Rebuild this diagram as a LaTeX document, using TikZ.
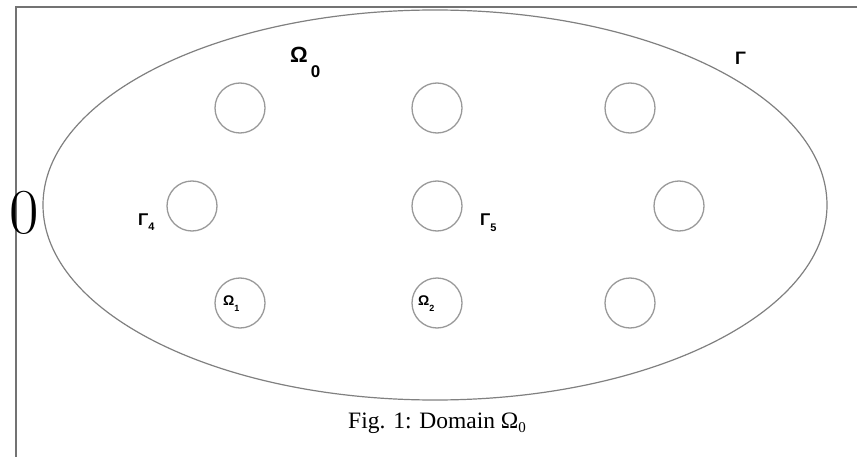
\documentclass[tikz,border=0pt]{standalone}
\usepackage{fontspec}
\newfontfamily\labfont{Liberation Sans}
\newfontfamily\capfont{Liberation Serif}
\newcommand{\lsub}[3]{\raisebox{#1}{\fontsize{#2}{#2}\selectfont #3}}
\tikzset{
  hole/.style={circle, draw=black!40, line width=1.3pt, minimum size=50pt, inner sep=0pt},
  lab/.style={inner sep=0pt, font=\labfont\bfseries},
  frame/.style={draw=black!55, line width=1.5pt}
}
\begin{document}
\begin{tikzpicture}[x=1pt,y=-1pt]
\useasboundingbox (0,0) rectangle (861,457);
\fill[white] (0,0) rectangle (861,457);
% frame lines
\coordinate (tl) at (16,7);
\coordinate (tr) at (857,7);
\coordinate (bl) at (16,457);
\draw[frame] (tr) -- (tl) -- (bl);
% outer boundary
\coordinate (ec) at (435,205);
\draw[draw=black!50, line width=1.2pt] (ec) ellipse [x radius=392pt, y radius=195pt];
% holes
\node[hole] (h11) at (240,108) {};
\node[hole] (h12) at (437,108) {};
\node[hole] (h13) at (630,108) {};
\node[hole] (h21) at (192,206) {};
\node[hole] (h22) at (437,206) {};
\node[hole] (h23) at (679,206) {};
\node[hole] (h31) at (240,303) {};
\node[hole] (h32) at (437,303) {};
\node[hole] (h33) at (630,303) {};
% labels
\node[lab, anchor=base west] (om0) at (290,63) {\fontsize{22}{22}\selectfont Ω\kern3pt\lsub{-15pt}{17}{0}};
\node[lab, anchor=base west] (gam) at (735,65) {\fontsize{18}{18}\selectfont Γ};
\node[lab, anchor=base west] (g4) at (138,225) {\fontsize{17}{17}\selectfont Γ\lsub{-5pt}{11}{4}};
\node[lab, anchor=base west] (g5) at (480,225) {\fontsize{17}{17}\selectfont Γ\lsub{-6pt}{11}{5}};
\node[lab, anchor=base west] (om1) at (223,305) {\fontsize{14}{14}\selectfont Ω\lsub{-6pt}{9}{1}};
\node[lab, anchor=base west] (om2) at (418,305) {\fontsize{14}{14}\selectfont Ω\lsub{-6pt}{9}{2}};
\node[inner sep=0pt, anchor=base west, font=\capfont] (cap) at (348,428) {\fontsize{23.5}{23.5}\selectfont Fig. 1: Domain Ω\lsub{-4pt}{15}{0}};
\node[inner sep=0pt, anchor=base] (zero) at (24,233) {\fontsize{64}{64}\selectfont 0};
\end{tikzpicture}
\end{document}
